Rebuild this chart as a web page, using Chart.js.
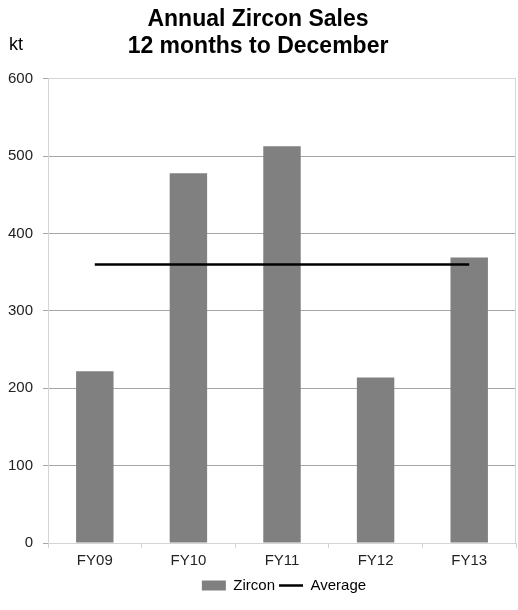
<!DOCTYPE html>
<html>
<head>
<meta charset="utf-8">
<script src="https://cdn.jsdelivr.net/npm/chart.js@4/dist/chart.umd.min.js"></script>
<style>
  html, body { margin: 0; padding: 0; background: #ffffff; }
  #wrap { width: 518px; height: 610px; position: relative; }
</style>
</head>
<body>
<div id="wrap"><canvas id="chartCanvas"></canvas></div>
<script>
// Chart data
const categories = ['FY09', 'FY10', 'FY11', 'FY12', 'FY13'];
const zirconSales = [222, 478, 513, 214, 369];
const averageSales = [360, 360, 360, 360, 360];
const yTicks = [0, 100, 200, 300, 400, 500, 600];

const fontFamily = 'Arial, "Liberation Sans", sans-serif';
const borderGrey = '#d4d4d4';
const gridGrey = '#a6a6a6';

// Draws the "kt" unit label and the right edge of the plot box,
// and nudges the legend a little to the right like the original
const framePlugin = {
    id: 'framePlugin',
    afterLayout(chart) {
        const legend = chart.legend;
        if (legend && !legend._shifted) {
            const origDraw = legend.draw.bind(legend);
            legend.draw = function () {
                chart.ctx.save();
                chart.ctx.translate(26, 0);
                origDraw();
                chart.ctx.restore();
            };
            legend._shifted = true;
        }
    },
    afterDraw(chart) {
        const ctx = chart.ctx;
        const area = chart.chartArea;
        ctx.save();
        ctx.strokeStyle = borderGrey;
        ctx.lineWidth = 1;
        ctx.beginPath();
        ctx.moveTo(Math.round(area.right) - 0.5, area.top);
        ctx.lineTo(Math.round(area.right) - 0.5, area.bottom);
        ctx.stroke();
        ctx.fillStyle = '#000000';
        ctx.font = '18px ' + fontFamily;
        ctx.textBaseline = 'alphabetic';
        ctx.textAlign = 'left';
        ctx.fillText('kt', 9, 50);
        ctx.restore();
    }
};

function loadChart() {
    try {
        const ctx = document.getElementById('chartCanvas').getContext('2d');
        const config = {
            type: 'bar',
            data: {
                labels: categories,
                datasets: [
                    {
                        type: 'line',
                        label: 'Average',
                        data: averageSales,
                        borderColor: '#000000',
                        backgroundColor: '#000000',
                        borderWidth: 2.5,
                        pointRadius: 0,
                        pointStyle: 'line',
                        fill: false,
                        order: 0
                    },
                    {
                        type: 'bar',
                        label: 'Zircon',
                        data: zirconSales,
                        backgroundColor: '#808080',
                        borderWidth: 0,
                        categoryPercentage: 1,
                        barPercentage: 0.4,
                        pointStyle: 'rect',
                        order: 1
                    }
                ]
            },
            options: {
                responsive: true,
                maintainAspectRatio: false,
                animation: false,
                layout: { padding: { left: 0, right: 2, top: 6, bottom: 7 } },
                plugins: {
                    title: {
                        display: true,
                        text: ['Annual Zircon Sales', '12 months to December'],
                        color: '#000000',
                        font: { family: fontFamily, size: 23, weight: 'bold', lineHeight: 1.17 },
                        padding: { top: 0, bottom: 19 }
                    },
                    legend: {
                        display: true,
                        position: 'bottom',
                        reverse: true,
                        labels: {
                            color: '#000000',
                            font: { family: fontFamily, size: 15 },
                            usePointStyle: true,
                            pointStyleWidth: 24,
                            boxHeight: 10,
                            padding: 4
                        }
                    },
                    tooltip: { enabled: false }
                },
                scales: {
                    x: {
                        offset: true,
                        grid: {
                            offset: true,
                            drawOnChartArea: false,
                            drawTicks: true,
                            tickLength: 5,
                            color: borderGrey
                        },
                        border: { display: true, color: borderGrey },
                        ticks: {
                            color: '#222222',
                            font: { family: fontFamily, size: 15 },
                            padding: 4
                        }
                    },
                    y: {
                        min: 0,
                        max: 600,
                        afterBuildTicks(scale) {
                            scale.ticks = yTicks.map(v => ({ value: v }));
                        },
                        afterFit(scale) {
                            scale.width = 48;
                        },
                        grid: {
                            color: ctx => (ctx.tick && (ctx.tick.value === 600 || ctx.tick.value === 0)) ? borderGrey : gridGrey,
                            tickColor: gridGrey,
                            tickLength: 5
                        },
                        border: { display: true, color: borderGrey },
                        ticks: {
                            color: '#222222',
                            font: { family: fontFamily, size: 15 },
                            padding: 10
                        }
                    }
                }
            },
            plugins: [framePlugin]
        };
        new Chart(ctx, config);
    } catch (e) {
        console.error(e);
    }
}

loadChart();
</script>
</body>
</html>
